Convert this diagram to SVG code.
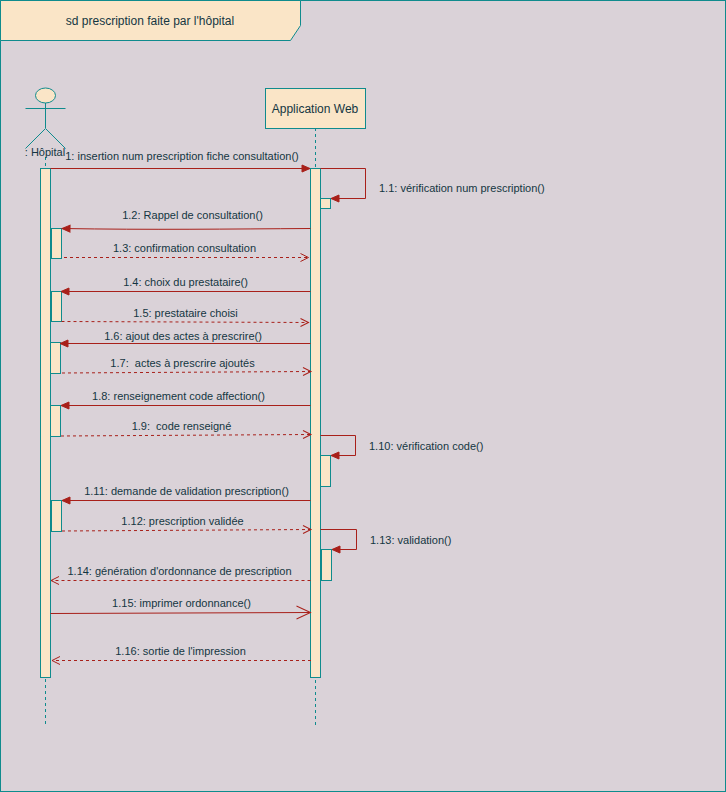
<svg xmlns="http://www.w3.org/2000/svg" width="726" height="792" viewBox="0 0 726 792">
<style>
.s{fill:#FAE5C7;stroke:#0F8B8D;stroke-width:1}
.l{fill:none;stroke:#0F8B8D;stroke-width:1}
.ll{fill:none;stroke:#0F8B8D;stroke-width:1;stroke-dasharray:3 3}
.m{fill:none;stroke:#A8201A;stroke-width:1}
.sync{marker-end:url(#a)}
.ret{stroke-dasharray:3 3;marker-end:url(#o)}
text{font-family:"Liberation Sans",Arial,sans-serif;font-size:11px;fill:#143642;text-anchor:middle}
.start{text-anchor:start}
.t12{font-size:12px}
</style>
<defs>
<marker id="a" markerUnits="userSpaceOnUse" markerWidth="12" markerHeight="10" refX="9" refY="4" orient="auto" overflow="visible"><path d="M1 0.500L9 4L1 7.500Z" fill="#A8201A" stroke="#A8201A"/></marker>
<marker id="o" markerUnits="userSpaceOnUse" markerWidth="12" markerHeight="10" refX="8" refY="4" orient="auto" overflow="visible"><path d="M0 0L8 4L0 8" fill="none" stroke="#A8201A" stroke-dasharray="none"/></marker>
<marker id="b" markerUnits="userSpaceOnUse" markerWidth="16" markerHeight="14" refX="14" refY="6.5" orient="auto" overflow="visible"><path d="M0 0L14 6.5L0 13" fill="none" stroke="#A8201A"/></marker>
</defs>
<rect x="0.5" y="0.5" width="725" height="791" fill="#DAD2D8" stroke="#0F8B8D"/>
<g id="frame-title"><path class="s" d="M0.5 0.5H300.5V25.5L290.5 40.5H0.5Z"/><text x="150" y="25" class="t12">sd prescription faite par l'hôpital</text></g>
<g id="actor-hopital">
<path class="ll" d="M45.5 157V726"/>
<ellipse class="s" cx="45.5" cy="95.5" rx="10" ry="7.5"/>
<path class="l" d="M45.5 103V128M25.5 108.500H65.500M25.500 148.500L45.500 128.500L65.500 148.500"/>
<text x="45" y="156">: Hôpital</text>
<rect class="s" x="40.500" y="168.500" width="10" height="509"/>
</g>
<g id="lifeline-app">
<path class="ll" d="M315.500 128V726"/>
<rect class="s" x="265.500" y="88.500" width="100" height="40"/>
<text x="315" y="113" class="t12">Application Web</text>
<rect class="s" x="310.500" y="168.500" width="10" height="509"/>
</g>
<g id="activations">
<rect class="s" x="320.500" y="198.500" width="10" height="10"/>
<rect class="s" x="51.500" y="228.500" width="10" height="30"/>
<rect class="s" x="51.500" y="291.500" width="10" height="30"/>
<rect class="s" x="50.500" y="342.500" width="10" height="31"/>
<rect class="s" x="50.500" y="405.500" width="10" height="31"/>
<rect class="s" x="320.500" y="455.500" width="10" height="31"/>
<rect class="s" x="51.500" y="500.500" width="10" height="31"/>
<rect class="s" x="321.500" y="549.500" width="10" height="31"/>
</g>
<g id="connectors">
<path class="m sync" d="M50.500 168.500H310"/>
<path class="m sync" d="M320.500 168.500H365.500V198.500H331"/>
<path class="m sync" d="M310.500 228.500C230 229 150 230 62 228.500"/>
<path class="m ret" d="M64 257.500H308.500"/>
<path class="m sync" d="M310.500 291.500H61"/>
<path class="m ret" d="M61.500 321.500L308.500 322.500"/>
<path class="m sync" d="M310.500 343.500H60"/>
<path class="m ret" d="M62 373L311 371.500"/>
<path class="m sync" d="M310.500 405.500H61"/>
<path class="m ret" d="M61 436L311 434.500"/>
<path class="m sync" d="M320.500 435.500H355.500V455.500H331"/>
<path class="m sync" d="M310.500 500.500H62"/>
<path class="m ret" d="M62 531L311 529.500"/>
<path class="m sync" d="M320.500 529.500H356.500V549.500H332"/>
<path class="m ret" d="M310.500 580.500H51"/>
<path class="m" style="marker-end:url(#b)" d="M50.500 613.500L310.500 612.500"/>
<path class="m ret" d="M311 660.500H52"/>
</g>
<g id="labels">
<text x="182" y="160">1: insertion num prescription fiche consultation()</text>
<text x="379" y="192" class="start">1.1: vérification num prescription()</text>
<text x="192.500" y="219">1.2: Rappel de consultation()</text>
<text x="184.500" y="252">1.3: confirmation consultation</text>
<text x="185.500" y="286">1.4: choix du prestataire()</text>
<text x="185.500" y="317">1.5: prestataire choisi</text>
<text x="183" y="340">1.6: ajout des actes à prescrire()</text>
<text x="182.500" y="367" xml:space="preserve">1.7:  actes à prescrire ajoutés</text>
<text x="178.500" y="400">1.8: renseignement code affection()</text>
<text x="181.500" y="430" xml:space="preserve">1.9:  code renseigné</text>
<text x="369" y="450" class="start">1.10: vérification code()</text>
<text x="186.500" y="495">1.11: demande de validation prescription()</text>
<text x="182.500" y="525">1.12: prescription validée</text>
<text x="370" y="544" class="start">1.13: validation()</text>
<text x="179.500" y="575">1.14: génération d'ordonnance de prescription</text>
<text x="181.500" y="607">1.15: imprimer ordonnance()</text>
<text x="180.500" y="655">1.16: sortie de l'impression</text>
</g>
</svg>
